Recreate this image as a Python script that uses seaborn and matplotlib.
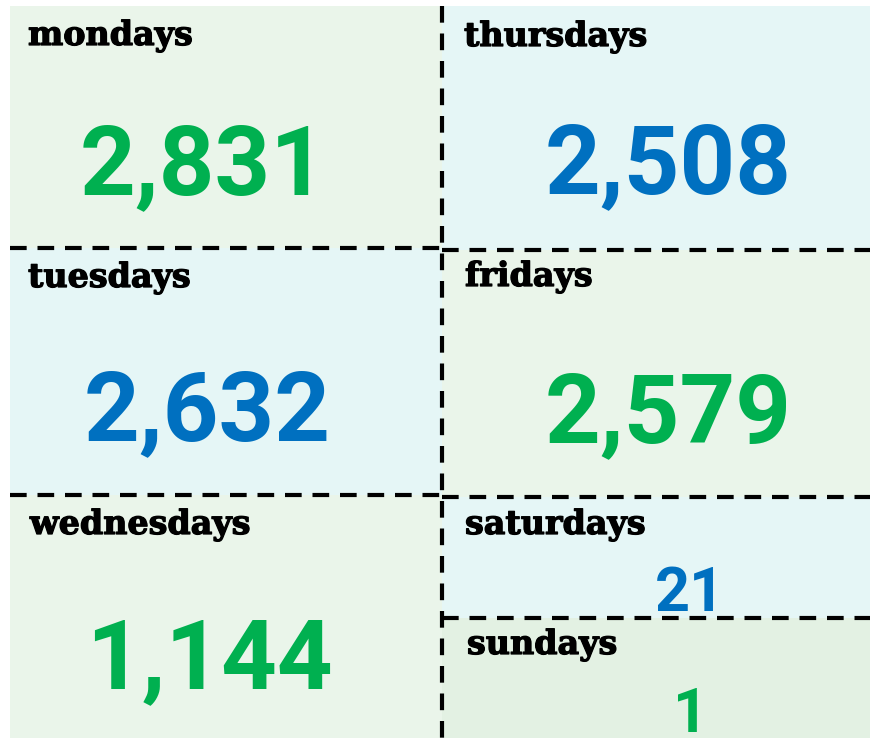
import matplotlib
matplotlib.use("Agg")
import matplotlib.pyplot as plt
import matplotlib.patheffects as pe
import seaborn as sns
from matplotlib.patches import Rectangle

# ── data ────────────────────────────────────────────────────────────────────
days   = ["mondays", "tuesdays", "wednesdays", "thursdays", "fridays",
          "saturdays", "sundays"]
counts = [2831, 2632, 1144, 2508, 2579, 21, 1]
tone   = ["green", "blue", "green", "blue", "green", "blue", "green"]

# ── layout (pixel units, y downwards) ───────────────────────────────────────
cells = {
    "mondays":    (10, 6, 442, 248),
    "tuesdays":   (10, 248, 442, 495),
    "wednesdays": (10, 495, 442, 738),
    "thursdays":  (442, 6, 870, 250),
    "fridays":    (442, 250, 870, 497),
    "saturdays":  (442, 497, 870, 618),
    "sundays":    (442, 618, 870, 738),
}
label_pos = {
    "mondays": (28, 45), "tuesdays": (28, 287), "wednesdays": (30, 534),
    "thursdays": (464, 46), "fridays": (465, 286), "saturdays": (465, 534),
    "sundays": (467, 654),
}
value_pos = {
    "mondays": (203, 194, 70), "tuesdays": (207, 440, 70),
    "wednesdays": (209, 688, 70), "thursdays": (668, 193, 70),
    "fridays": (668, 442, 70), "saturdays": (690, 611, 44),
    "sundays": (690, 732, 44),
}
bg_colour = {"green": "#EAF5EA", "blue": "#E5F6F6"}
fg_colour = {"green": "#00B050", "blue": "#0070C0"}

sns.set_theme(style="white")
fig = plt.figure(figsize=(8.76, 7.38), dpi=100)
ax = fig.add_axes([0, 0, 1, 1])
ax.set_xlim(0, 876)
ax.set_ylim(738, 0)
ax.axis("off")

heavy = [pe.withStroke(linewidth=0.9, foreground="black")]

for day, n, t in zip(days, counts, tone):
    x0, y0, x1, y1 = cells[day]
    bg = "#E3F1E3" if day == "sundays" else bg_colour[t]
    ax.add_patch(Rectangle((x0, y0), x1 - x0, y1 - y0, facecolor=bg,
                           edgecolor="none", zorder=0))
    lx, ly = label_pos[day]
    ax.text(lx, ly, day, fontsize=24, fontweight="bold",
            family=["DejaVu Serif"], color="black", va="baseline", ha="left",
            path_effects=heavy)
    vx, vy, fs = value_pos[day]
    ax.text(vx, vy, f"{n:,}", fontsize=fs, fontweight="bold",
            family=["Roboto"], color=fg_colour[t],
            va="baseline", ha="center")

# dashed separators
dash = dict(color="black", linewidth=3, linestyle=(0, (4, 2.6)), zorder=3)
ax.plot([442, 442], [6, 738], **dash)
ax.plot([10, 442], [248, 248], **dash)
ax.plot([442, 870], [250, 250], **dash)
ax.plot([10, 442], [495, 495], **dash)
ax.plot([442, 870], [497, 497], **dash)
ax.plot([442, 870], [618, 618], **dash)

fig.savefig("out.png", dpi=100)
